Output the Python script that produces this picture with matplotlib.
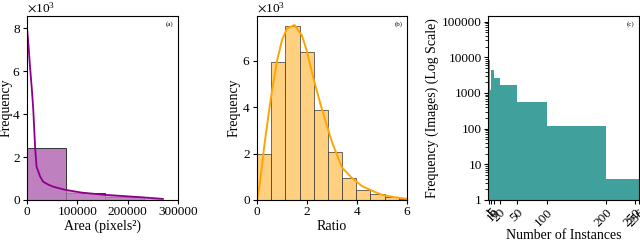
import matplotlib
matplotlib.use("Agg")
import matplotlib.pyplot as plt
from matplotlib.ticker import ScalarFormatter
import numpy as np

plt.rcParams['font.family'] = ['Liberation Serif', 'DejaVu Serif']
plt.rcParams['mathtext.fontset'] = 'stix'

# ---- Panel (a): area histogram ----
area_bin_edges = [0, 77000, 155000, 232000, 309000]
area_counts = [2400, 340, 130, 20]
area_curve_x = [500, 3000, 6000, 9500, 12500, 16000, 19000, 26000, 32000, 42000, 52000,
                65000, 77000, 110000, 155000, 200000, 232000, 270000]
area_curve_y = [7900, 7200, 6200, 5200, 4200, 2500, 1550, 1100, 850, 720, 620,
                540, 470, 340, 240, 170, 120, 50]

# ---- Panel (b): ratio histogram ----
ratio_bin_edges = [0, 0.567, 1.133, 1.7, 2.267, 2.833, 3.4, 3.967, 4.533, 5.1, 5.667, 6.233]
ratio_counts = [2000, 5950, 7500, 6400, 3900, 2050, 950, 450, 270, 150, 50]
ratio_curve_x = [0, 0.1, 0.2, 0.3, 0.45, 0.57, 0.8, 1.0, 1.2, 1.5, 1.8, 2.0, 2.27,
                 2.6, 3.0, 3.4, 3.8, 4.2, 4.6, 5.0, 5.5, 6.0]
ratio_curve_y = [0, 600, 1500, 2400, 3600, 4500, 6000, 6900, 7400, 7550, 7100, 6400,
                 5200, 3900, 2500, 1400, 950, 600, 400, 220, 120, 50]

# ---- Panel (c): instances per image ----
inst_bin_edges = [1, 3, 5, 10, 20, 50, 100, 200, 256]
inst_counts = [8400, 1250, 4500, 2600, 1700, 560, 119, 4]
inst_ticks = [1, 5, 10, 20, 50, 100, 200, 250, 256]

fig = plt.figure(figsize=(6.4, 2.41), dpi=100)
H = 241.0
W = 640.0
def axes_px(l, r, t, b):
    return fig.add_axes([l / W, (H - b) / H, (r - l) / W, (b - t) / H])

fs = 10
tfs = 9.5

# Panel a
ax1 = axes_px(27, 178, 16, 200)
for i in range(len(area_counts)):
    ax1.bar(area_bin_edges[i], area_counts[i], width=area_bin_edges[i + 1] - area_bin_edges[i],
            align='edge', color='#bf80bf', edgecolor='#333333', linewidth=0.7)
cx = np.array(area_curve_x)
cy = np.array(area_curve_y)
mask = cx >= area_bin_edges[1]
ax1.fill_between(cx[mask], 0, cy[mask], color='#c58ac5', alpha=0.8, linewidth=0)
ax1.plot(area_curve_x, area_curve_y, color='#8b008b', linewidth=1.3)
ax1.set_xlim(0, 300000)
ax1.set_ylim(0, 8570)
ax1.set_xticks([0, 100000, 200000, 300000])
ax1.set_yticks([0, 2000, 4000, 6000, 8000])
f1 = ScalarFormatter(useMathText=True)
f1.set_powerlimits((3, 3))
ax1.yaxis.set_major_formatter(f1)
ax1.set_xlabel('Area (pixels²)', fontsize=fs, labelpad=1)
ax1.set_ylabel('Frequency', fontsize=fs, labelpad=0)
ax1.text(0.97, 0.97, '(a)', transform=ax1.transAxes, ha='right', va='top', fontsize=5)

# Panel b
ax2 = axes_px(257, 407, 16, 200)
for i in range(len(ratio_counts)):
    ax2.bar(ratio_bin_edges[i], ratio_counts[i], width=ratio_bin_edges[i + 1] - ratio_bin_edges[i],
            align='edge', color='#ffd080', edgecolor='#333333', linewidth=0.5)
ax2.plot(ratio_curve_x, ratio_curve_y, color='#ffa500', linewidth=1.4)
ax2.set_xlim(0, 6)
ax2.set_ylim(0, 7940)
ax2.set_xticks([0, 2, 4, 6])
ax2.set_yticks([0, 2000, 4000, 6000])
f2 = ScalarFormatter(useMathText=True)
f2.set_powerlimits((3, 3))
ax2.yaxis.set_major_formatter(f2)
ax2.set_xlabel('Ratio', fontsize=fs, labelpad=1)
ax2.set_ylabel('Frequency', fontsize=fs, labelpad=1)
ax2.text(0.97, 0.97, '(b)', transform=ax2.transAxes, ha='right', va='top', fontsize=5)

# Panel c
ax3 = axes_px(488, 639, 16, 200)
ax3.stairs(inst_counts, inst_bin_edges, fill=True, color='#40a09b', baseline=1)
ax3.set_yscale('log')
ax3.set_ylim(1, 144000)
ax3.set_xlim(0, 256)
ax3.set_yticks([1, 10, 100, 1000, 10000, 100000])
ax3.set_yticklabels(['1', '10', '100', '1000', '10000', '100000'])
ax3.set_xticks(inst_ticks)
ax3.set_xticklabels([str(t) for t in inst_ticks], rotation=45, ha='right', rotation_mode='anchor')
ax3.set_xlabel('Number of Instances', fontsize=fs, labelpad=0)
ax3.set_ylabel('Frequency (Images) (Log Scale)', fontsize=fs, labelpad=2)
ax3.text(0.97, 0.97, '(c)', transform=ax3.transAxes, ha='right', va='top', fontsize=5)

for ax in (ax1, ax2, ax3):
    ax.tick_params(labelsize=tfs, length=3, pad=1.5)
    ax.yaxis.get_offset_text().set_fontsize(tfs)

fig.savefig('out.png', dpi=100)
